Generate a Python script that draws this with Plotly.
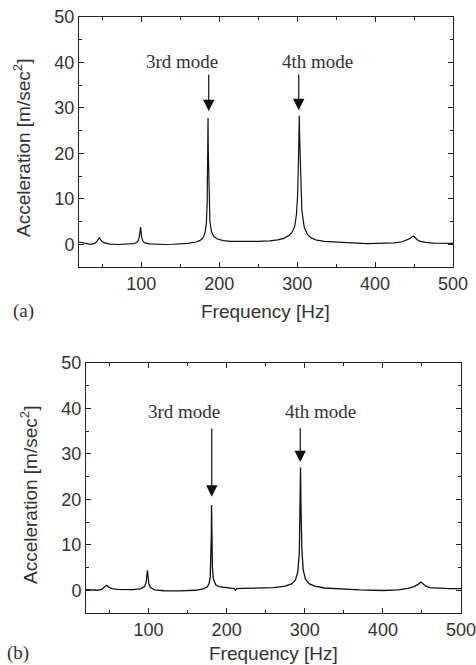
import plotly.graph_objects as go

# ---------------- data ----------------
freq_a = [20, 25, 30, 35, 40, 43, 45, 46, 47, 49, 52, 56, 60, 70, 80, 90, 94, 96, 97.5, 98.5, 99, 99.5,
          100.5, 102, 104, 110, 120, 130, 140, 150, 160, 170, 175, 178, 180, 182, 183.5, 184.5, 185.2,
          185.6, 186, 186.8, 188, 190, 193, 197, 205, 215, 230, 250, 265, 275, 283, 290, 294, 297, 299,
          300.5, 301.5, 302.3, 302.7, 303.3, 304.5, 306, 309, 313, 318, 325, 335, 350, 370, 390, 410,
          425, 435, 441, 445, 447.5, 449.5, 451, 454, 458, 465, 475, 490, 500]
acc_a = [0.5, 0.3, 0.05, 0.0, 0.2, 0.6, 1.2, 1.5, 1.2, 0.7, 0.35, 0.15, 0.05, -0.05, 0.0, 0.15, 0.4, 0.8, 1.7, 3.2, 3.8, 3.1,
         1.5, 0.7, 0.35, 0.1, 0.0, -0.05, 0.0, 0.05, 0.2, 0.5, 0.8, 1.2, 1.7, 2.7, 4.7, 9.0, 18.0,
         27.8, 20.0, 10.0, 5.0, 2.8, 1.7, 1.2, 0.8, 0.65, 0.6, 0.65, 0.75, 0.95, 1.3, 2.0, 2.8, 4.0, 6.5,
         10.5, 17.0, 25.0, 28.3, 23.0, 13.0, 7.5, 3.8, 2.2, 1.4, 0.9, 0.65, 0.45, 0.3, 0.15, 0.15,
         0.3, 0.55, 0.9, 1.3, 1.65, 1.8, 1.55, 1.0, 0.65, 0.4, 0.25, 0.2, 0.2]

freq_b = [20, 25, 30, 35, 40, 44, 46.5, 49, 53, 60, 70, 80, 90, 95, 97, 98, 98.6, 99.3, 100.5, 102.5, 108,
          120, 140, 160, 170, 175, 177.5, 179, 180, 180.4, 180.7, 181.1, 181.8, 183, 186, 190, 200, 208,
          210, 211.5, 213, 220, 240, 260, 275, 283, 288, 291, 293, 294, 294.6, 295.2, 296.3, 298, 301,
          306, 313, 325, 345, 370, 400, 420, 432, 440, 445, 448.7, 451, 455, 460, 470, 485, 500]
acc_b = [0.15, 0.05, 0.0, 0.0, 0.2, 0.7, 1.1, 0.7, 0.35, 0.2, 0.15, 0.15, 0.3, 0.8, 1.8, 3.2, 4.4, 3.2, 1.4, 0.6, 0.1,
         -0.1, -0.15, 0.0, 0.3, 0.7, 1.4, 3.0, 7.0, 12.0, 18.75, 11.0, 5.0, 2.5, 1.2, 0.8, 0.5, 0.4,
         0.35, 0.0, 0.35, 0.4, 0.45, 0.6, 0.9, 1.4, 2.2, 4.0, 8.0, 17.0, 27.0, 18.0, 9.0, 4.5, 2.4,
         1.4, 0.9, 0.5, 0.25, 0.1, -0.05, 0.1, 0.4, 0.8, 1.3, 1.8, 1.5, 0.9, 0.6, 0.45, 0.35, 0.35]

x_ticks = [100, 200, 300, 400, 500]
y_ticks = [0, 10, 20, 30, 40, 50]
x_range = [20, 500]
y_range = [-5, 50]

# mode labels: (text, text x, text y, arrow x, arrow tail y, arrow head y)
modes_a = [("3rd mode", 152, 40.2, 186.5, 37.6, 29.3), ("4th mode", 326, 40.2, 302, 37.7, 29.5)]
modes_b = [("3rd mode", 145, 39.3, 181, 35.9, 20.6), ("4th mode", 320, 39.3, 294.2, 36.0, 28.2)]

W, H = 476, 665
TXT = "#333333"
SANS = "Liberation Sans, Arial, sans-serif"
SERIF = "Liberation Serif, Times New Roman, serif"
FS = 18
FT = 19

fig = go.Figure()
fig.add_trace(go.Scatter(x=freq_a, y=acc_a, mode="lines", line=dict(color="#111", width=1.2),
                         xaxis="x", yaxis="y", showlegend=False, hoverinfo="skip"))
fig.add_trace(go.Scatter(x=freq_b, y=acc_b, mode="lines", line=dict(color="#111", width=1.3),
                         xaxis="x2", yaxis="y2", showlegend=False, hoverinfo="skip"))


def xax(domain, anchor):
    return dict(domain=domain, anchor=anchor, range=x_range, tickvals=x_ticks, ticks="inside",
                ticklen=5, tickwidth=1, tickcolor="#222", showline=True, linecolor="#222", linewidth=1,
                mirror="allticks", showgrid=False, zeroline=False, automargin=False,
                ticklabeloverflow="allow",
                tickfont=dict(family=SANS, size=FS, color=TXT),
                minor=dict(tickvals=[50, 150, 250, 350, 450], ticks="inside", ticklen=3, tickcolor="#222"))


def yax(domain, anchor):
    return dict(domain=domain, anchor=anchor, range=y_range, tickvals=y_ticks, ticks="inside",
                ticklen=5, tickwidth=1, tickcolor="#222", showline=True, linecolor="#222", linewidth=1,
                mirror="allticks", showgrid=False, zeroline=False, automargin=False,
                ticklabeloverflow="allow",
                tickfont=dict(family=SANS, size=FS, color=TXT),
                minor=dict(tickvals=[-5, 5, 15, 25, 35, 45], ticks="inside", ticklen=3, tickcolor="#222"))


fig.update_layout(
    width=W, height=H, autosize=False, margin=dict(l=0, r=0, t=0, b=0, pad=0),
    paper_bgcolor="white", plot_bgcolor="white",
    xaxis=xax([79 / W, 453 / W], "y"),
    yaxis=yax([1 - 267 / H, 1 - 17 / H], "x"),
    xaxis2=xax([86 / W, 461 / W], "y2"),
    yaxis2=yax([1 - 613 / H, 1 - 363 / H], "x2"),
)

ann = []
for modes, xr, yr in [(modes_a, "x", "y"), (modes_b, "x2", "y2")]:
    for text, tx, ty, axp, tail, head in modes:
        ann.append(dict(text=text, x=tx, y=ty, xref=xr, yref=yr, showarrow=False,
                        xanchor="center", yanchor="middle",
                        font=dict(family=SERIF, size=19, color=TXT)))
        ann.append(dict(text="", x=axp, y=head, ax=axp, ay=tail, xref=xr, yref=yr, axref=xr, ayref=yr,
                        showarrow=True, arrowhead=2, arrowsize=1.9, arrowwidth=1.2, arrowcolor="#111"))


def pa(text, px, py, family, size, angle=0):
    return dict(text=text, x=px / W, y=1 - py / H, xref="paper", yref="paper", textangle=angle,
                xanchor="center", yanchor="middle", showarrow=False,
                font=dict(family=family, size=size, color=TXT))


# axis titles and panel labels
ann += [
    pa("Acceleration [m/sec<sup>2</sup>]", 22, 148, SANS, FT, -90),
    pa("Acceleration [m/sec<sup>2</sup>]", 29, 495, SANS, FT, -90),
    pa("Frequency [Hz]", 265, 311, SANS, FT),
    pa("Frequency [Hz]", 273, 653, SANS, FT),
    pa("(a)", 23, 311, SERIF, 19),
    pa("(b)", 18, 653, SERIF, 19),
]
fig.update_layout(annotations=ann)

fig.write_html("out.html", config={"displayModeBar": False},
               post_script="document.body.style.margin='0';document.body.style.overflow='hidden';")
